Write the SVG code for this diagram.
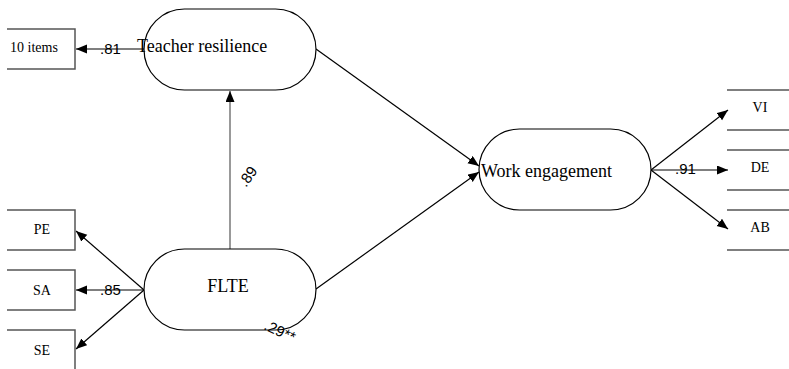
<svg xmlns="http://www.w3.org/2000/svg" width="789" height="369" viewBox="0 0 789 369">
<defs>
<marker id="ah" markerUnits="userSpaceOnUse" markerWidth="12" markerHeight="10" refX="11" refY="4.5" orient="auto">
<path d="M0,0 L11,4.5 L0,9 z" fill="#000"/>
</marker>
<style>
.lat{fill:#fff;stroke:#000;stroke-width:1.2}
.box{fill:none;stroke:#555;stroke-width:1.5}
.t{font-family:"Liberation Serif","Times New Roman",serif;fill:#000}
.n{font-family:"Liberation Sans",Arial,sans-serif;font-size:15px;fill:#000}
.c{stroke:#000;stroke-width:1.2;fill:none;marker-end:url(#ah)}
</style>
</defs>
<rect width="789" height="369" fill="#fff"/>
<g id="connectors">
<line class="c" x1="144" y1="49" x2="76" y2="49"/>
<line class="c" x1="230" y1="249" x2="230" y2="91" style="stroke:#555"/>
<line class="c" x1="316" y1="49" x2="479" y2="166"/>
<line class="c" x1="316" y1="289" x2="479" y2="172"/>
<line class="c" x1="144" y1="290" x2="76" y2="231"/>
<line class="c" x1="144" y1="290" x2="76" y2="290"/>
<line class="c" x1="144" y1="290" x2="76" y2="349"/>
<line class="c" x1="651" y1="170" x2="728" y2="110"/>
<line class="c" x1="651" y1="170" x2="728" y2="170"/>
<line class="c" x1="651" y1="170" x2="728" y2="229"/>
</g>
<g id="items10"><path class="box" d="M7,29 H75 V69 H7"/><text class="t" x="10" y="52" font-size="14">10 items</text></g>
<g id="PE"><path class="box" d="M7,210 H75 V250 H7"/><text class="t" x="42" y="234" font-size="14" text-anchor="middle">PE</text></g>
<g id="SA"><path class="box" d="M7,270 H75 V310 H7"/><text class="t" x="42" y="295" font-size="14" text-anchor="middle">SA</text></g>
<g id="SE"><path class="box" d="M7,330 H75 V370"/><text class="t" x="42" y="355" font-size="14" text-anchor="middle">SE</text></g>
<g id="VI"><path class="box" d="M727,90 H789 M727,130 H789"/><text class="t" x="760" y="112" font-size="14" text-anchor="middle">VI</text></g>
<g id="DE"><path class="box" d="M727,150 H789 M727,190 H789"/><text class="t" x="760" y="172" font-size="14" text-anchor="middle">DE</text></g>
<g id="AB"><path class="box" d="M727,210 H789 M727,250 H789"/><text class="t" x="760" y="232" font-size="14" text-anchor="middle">AB</text></g>
<g id="teacher-resilience"><rect class="lat" x="144" y="9" width="172" height="81" rx="40.5"/><text class="t" x="137" y="52" font-size="18">Teacher resilience</text></g>
<g id="work-engagement"><rect class="lat" x="479" y="129" width="172" height="81" rx="40.5"/><text class="t" x="481" y="177" font-size="18">Work engagement</text></g>
<g id="FLTE"><rect class="lat" x="144" y="249" width="172" height="81" rx="40.5"/><text class="t" x="228" y="292" font-size="18" text-anchor="middle">FLTE</text></g>
<g id="labels">
<text class="n" x="100" y="54">.81</text>
<text class="n" x="100" y="295">.85</text>
<text class="n" x="675" y="174">.91</text>
<text class="n" transform="translate(246,188) rotate(-55)">.89</text>
<text class="n" transform="translate(263,329) rotate(25)">.29**</text>
</g>
</svg>
